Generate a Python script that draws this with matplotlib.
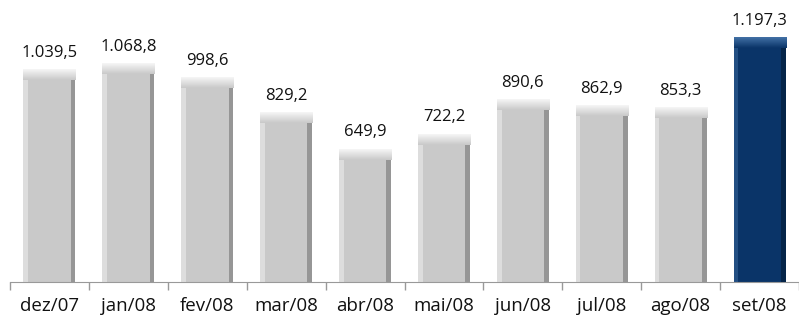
import matplotlib.pyplot as plt
import numpy as np
from matplotlib.colors import LinearSegmentedColormap

plt.rcParams.update({"font.family": ["Open Sans", "DejaVu Sans"]})

months = ["dez/07", "jan/08", "fev/08", "mar/08", "abr/08",
          "mai/08", "jun/08", "jul/08", "ago/08", "set/08"]
values = [1039.5, 1068.8, 998.6, 829.2, 649.9, 722.2, 890.6, 862.9, 853.3, 1197.3]
labels = ["1.039,5", "1.068,8", "998,6", "829,2", "649,9",
          "722,2", "890,6", "862,9", "853,3", "1.197,3"]

fig = plt.figure(figsize=(7.99, 3.25), dpi=100)
ax = fig.add_axes([10 / 799, 43 / 325, 789 / 799, 272 / 325])

x = np.arange(len(months))
w = 0.66
bevel = 50  # top bevel height in data units
side = 0.06  # side shading width

for i, (xi, v) in enumerate(zip(x, values)):
    last = i == len(values) - 1
    body = "#0a3468" if last else "#c9c9c9"
    light = "#4271a6" if last else "#f6f6f6"
    dark = "#052448" if last else "#969696"
    # main body
    ax.bar(xi, v, width=w, color=body, zorder=2)
    # left highlight and right shadow strips
    ax.bar(xi - w / 2 + side / 2, v - bevel / 2, width=side, color=light,
           alpha=0.45, zorder=3)
    ax.bar(xi + w / 2 - side / 2, v - bevel / 2, width=side, color=dark,
           zorder=3)
    # top bevel: smooth gradient from body color up to a light edge
    grad = np.linspace(0, 1, 40).reshape(-1, 1)
    cmap = LinearSegmentedColormap.from_list("bevel", [body, light])
    ax.imshow(grad, cmap=cmap, aspect="auto", origin="lower",
              extent=(xi - w / 2, xi + w / 2, v - bevel, v), zorder=4)
    ax.text(xi, v + 45, labels[i], ha="center", va="bottom",
            fontsize=12, color="#111111")

ax.set_xlim(-0.5, len(months) - 0.5)
ax.set_ylim(0, 1333)
ax.set_xticks(x)
ax.set_xticklabels(months, fontsize=13.5, color="#111111")
ax.set_xticks(np.arange(-0.5, len(months)), minor=True)
ax.tick_params(axis="x", which="major", length=0, pad=11)
ax.tick_params(axis="x", which="minor", length=6, color="#999999", width=1)
ax.set_yticks([])
for s in ["top", "right", "left"]:
    ax.spines[s].set_visible(False)
ax.spines["bottom"].set_color("#999999")

fig.savefig("out.png", dpi=100)
